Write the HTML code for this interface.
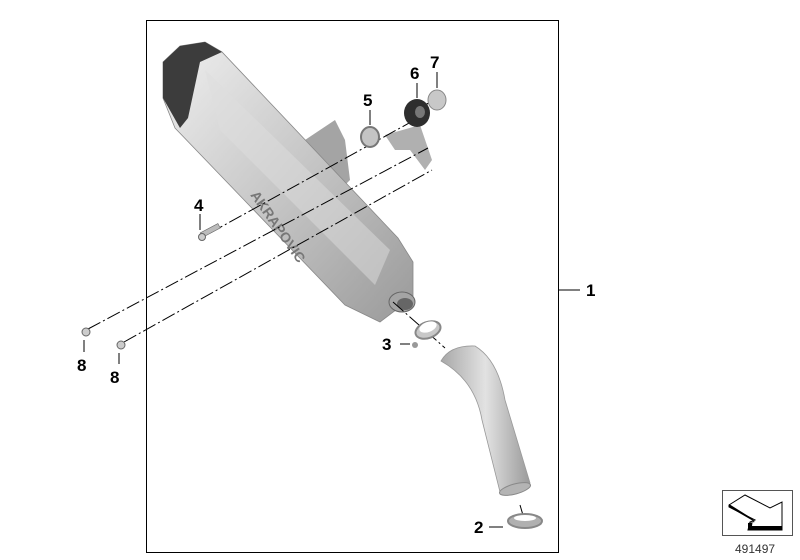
<!DOCTYPE html>
<html><head><meta charset="utf-8"><style>body{margin:0;background:#fff}svg{display:block}text{font-family:"Liberation Sans",Arial,sans-serif;font-weight:bold;font-size:17px;fill:#000}</style></head>
<body>
<svg width="800" height="560" viewBox="0 0 800 560" xmlns="http://www.w3.org/2000/svg">
<defs>
<linearGradient id="g1" x1="0" y1="0" x2="1" y2="1"><stop offset="0" stop-color="#f0f0f0"/><stop offset="0.5" stop-color="#c6c6c6"/><stop offset="1" stop-color="#9a9a9a"/></linearGradient>
<linearGradient id="g2" x1="0" y1="0" x2="1" y2="0"><stop offset="0" stop-color="#a8a8a8"/><stop offset="0.5" stop-color="#e2e2e2"/><stop offset="1" stop-color="#9a9a9a"/></linearGradient>
</defs>
<rect x="146.5" y="20.5" width="412" height="532" fill="none" stroke="#000" stroke-width="1"/>
<line x1="558" y1="290" x2="580" y2="290" stroke="#000"/>
<text x="586" y="296">1</text>
<!-- bracket -->
<polygon points="305,140 335,120 345,140 350,180 330,200" fill="#a4a4a4"/>
<polygon points="385,135 420,125 432,160 425,170 410,150 395,150" fill="#b0b0b0"/>
<!-- muffler body -->
<polygon points="180,46 205,42 222,52 398,238 413,262 413,297 380,322 345,305 175,128 163,98 163,62" fill="url(#g1)" stroke="#888" stroke-width="0.8"/>
<polygon points="163,62 180,46 205,42 222,52 200,62 188,118 180,128 163,98" fill="#3c3c3c"/>
<polygon points="205,70 390,250 375,285 220,130" fill="#dedede" opacity="0.5"/>
<text x="250" y="195" transform="rotate(55 250 195)" style="font-size:14px;fill:#777">AKRAPOVIC</text>
<!-- outlet -->
<ellipse cx="402" cy="302" rx="13" ry="10" fill="#a4a4a4" stroke="#666"/>
<ellipse cx="405" cy="304" rx="8" ry="6" fill="#666"/>
<!-- dash-dot lines -->
<g stroke="#000" stroke-width="1" stroke-dasharray="14,3,2,3" fill="none">
<line x1="210" y1="233" x2="420" y2="117"/>
<line x1="88" y1="329" x2="428" y2="148"/>
<line x1="124" y1="342" x2="432" y2="170"/>
<line x1="425" y1="105" x2="440" y2="97"/>
<line x1="393" y1="302" x2="445" y2="348"/>
<line x1="520" y1="505" x2="525" y2="522"/>
</g>
<!-- bolt 4 -->
<rect x="200" y="228" width="20" height="5" fill="#bbb" stroke="#666" stroke-width="0.6" transform="rotate(-28 210 230)"/>
<circle cx="202" cy="237" r="3.5" fill="#ccc" stroke="#666"/>
<line x1="200" y1="214" x2="200" y2="230" stroke="#000"/>
<text x="194" y="211">4</text>
<!-- 5 washer -->
<ellipse cx="370" cy="137" rx="9" ry="10" fill="#c4c4c4" stroke="#777" stroke-width="2"/>
<line x1="370" y1="110" x2="370" y2="125" stroke="#000"/>
<text x="363" y="106">5</text>
<!-- 6 grommet -->
<ellipse cx="417" cy="113" rx="13" ry="14" fill="#2e2e2e"/>
<ellipse cx="420" cy="112" rx="5" ry="6" fill="#777"/>
<line x1="417" y1="83" x2="417" y2="98" stroke="#000"/>
<text x="410" y="79">6</text>
<!-- 7 disc -->
<ellipse cx="437" cy="100" rx="9" ry="10" fill="#c8c8c8" stroke="#888"/>
<line x1="437" y1="72" x2="437" y2="88" stroke="#000"/>
<text x="430" y="68">7</text>
<!-- bolts 8 -->
<circle cx="86" cy="332" r="4" fill="#ccc" stroke="#666"/>
<line x1="84" y1="340" x2="84" y2="352" stroke="#000"/>
<text x="77" y="371">8</text>
<circle cx="121" cy="345" r="4" fill="#ccc" stroke="#666"/>
<line x1="119" y1="353" x2="119" y2="364" stroke="#000"/>
<text x="110" y="383">8</text>
<!-- clamp 3 -->
<ellipse cx="428" cy="330" rx="13" ry="8" fill="#c8c8c8" stroke="#888" stroke-width="2" transform="rotate(-20 428 330)"/>
<ellipse cx="428" cy="327" rx="9" ry="5" fill="#fff" transform="rotate(-20 428 327)"/>
<circle cx="415" cy="345" r="3" fill="#999"/>
<line x1="400" y1="344" x2="410" y2="344" stroke="#000"/>
<text x="382" y="350">3</text>
<!-- link pipe -->
<path d="M441,361 Q450,345 475,346 Q498,360 505,400 L530,483 L500,492 L482,420 Q475,380 441,361 Z" fill="url(#g2)" stroke="#999" stroke-width="0.8"/>
<ellipse cx="515" cy="489" rx="16" ry="5" fill="#b4b4b4" stroke="#888" transform="rotate(-15 515 489)"/>
<!-- clamp 2 -->
<ellipse cx="525" cy="521" rx="17" ry="7" fill="#b0b0b0" stroke="#888" stroke-width="2"/>
<ellipse cx="525" cy="518" rx="11" ry="3" fill="#fff"/>
<line x1="489" y1="527" x2="503" y2="527" stroke="#000"/>
<text x="474" y="533">2</text>
<!-- icon -->
<rect x="722.5" y="490.5" width="70" height="45" fill="#fff" stroke="#555"/>
<polygon points="729,505 745,495 770,508 782,502 782,530 748,530 750,522 755,520 729,507" fill="#fff" stroke="#000" stroke-width="1"/>
<polygon points="729,507 755,522 748,523 748,530 782,530 782,526 752,526 753,519 729,504" fill="#000"/>
<text x="735" y="553" style="font-weight:normal;font-size:12px;fill:#333">491497</text>
</svg>
</body></html>
